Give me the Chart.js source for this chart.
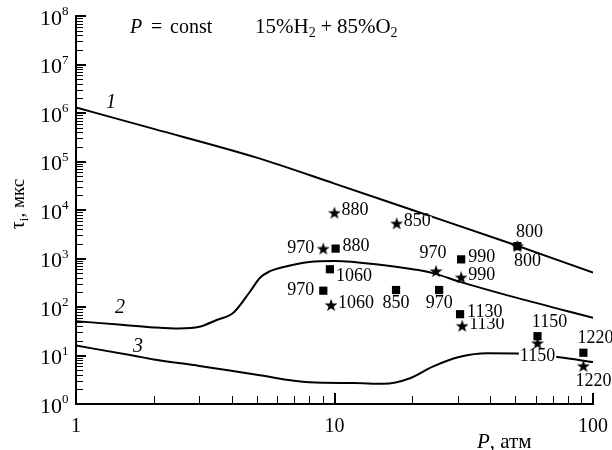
<!DOCTYPE html>
<html>
<head>
<meta charset="utf-8">
<script src="https://cdn.jsdelivr.net/npm/chart.js@4.4.0/dist/chart.umd.min.js"></script>
<style>
  html, body { margin: 0; padding: 0; background: #fff; }
  #wrap { position: relative; width: 612px; height: 450px; }
  #wrap canvas { position: absolute; left: 0; top: 0; }
</style>
</head>
<body>
<div id="wrap">
  <canvas id="chart" width="612" height="450"></canvas>
  <canvas id="axes" width="612" height="450"></canvas>
</div>
<script>
// computed curves 1-3: pressure P (atm) -> induction time tau_i (mks)
const curve1P   = [1, 2, 5, 10, 20, 50, 100];
const curve1Tau = [1.3e6, 4.7e5, 1.2e5, 3.5e4, 1.0e4, 1.9e3, 510];

const curve2P   = [1, 1.5, 2, 2.5, 3, 3.5, 4.05, 4.7, 5.15, 5.6, 6.3, 8, 10, 15, 24, 30.6, 50.8, 100];
const curve2Tau = [51, 43, 38, 36, 39, 54, 75, 204, 400, 540, 660, 850, 890, 740, 500, 330, 154, 60];

const curve3P   = [1, 1.66, 2, 3, 5, 8, 12, 15.5, 19.6, 24, 30.6, 39, 50.8, 74, 100];
const curve3Tau = [16, 10, 8.3, 6.1, 4.0, 2.8, 2.7, 2.6, 3.4, 5.9, 9.4, 11.1, 11, 9.2, 7.3];

// experiments: squares and stars, labelled with temperature (K)
const squareP   = [10.1, 9.6, 9.05, 17.3, 25.4, 30.9, 30.6, 51, 61, 91.8];
const squareTau = [1600, 600, 217, 224, 224, 960, 71, 1800, 25, 11.4];
const squareLbl = ['880', '1060', '970', '850', '970', '990', '1130', '800', '1150', '1220'];

const starP   = [10.0, 17.4, 9.05, 24.7, 9.7, 30.9, 51, 31.2, 61, 91.8];
const starTau = [8800, 5300, 1600, 550, 110, 410, 1800, 41, 18, 6.1];
const starLbl = ['880', '850', '970', '970', '1060', '990', '800', '1130', '1150', '1220'];

// ticks
const xTicks = [1, 10, 100];
const xTickLabels = ['1', '10', '100'];
const yTickExps = [0, 1, 2, 3, 4, 5, 6, 7, 8];

// where each label sits relative to its marker
const squareSide = ['r', 'rb', 'l', 'b', 'b', 'r', 'r', 'ar', 'ar', 'ar'];
const starSide   = ['r', 'r', 'l', 'a', 'r', 'r', 'br', 'r', 'b', 'br'];

const SERIF = '"Liberation Serif", "Times New Roman", serif';

const pts = (xs, ys) => xs.map((v, i) => ({ x: v, y: ys[i] }));

// filled five-point star as a point style
const starImg = document.createElement('canvas');
starImg.width = 14; starImg.height = 14;
(() => {
  const c = starImg.getContext('2d');
  c.fillStyle = '#000';
  c.beginPath();
  for (let i = 0; i < 10; i++) {
    const r = i % 2 === 0 ? 6.8 : 2.7;
    const ang = -Math.PI / 2 + i * Math.PI / 5;
    const px = 7 + r * Math.cos(ang), py = 7.6 + r * Math.sin(ang);
    if (i === 0) c.moveTo(px, py); else c.lineTo(px, py);
  }
  c.closePath();
  c.fill();
})();

// draw runs of text pieces left to right: [text, font, dy]
function runWidth(ctx, runs) {
  let w = 0;
  runs.forEach(([t, f]) => { ctx.font = f; w += ctx.measureText(t).width; });
  return w;
}
function drawRuns(ctx, x0, y0, runs) {
  runs.forEach(([t, f, dy]) => {
    ctx.font = f;
    ctx.fillText(t, x0, y0 + (dy || 0));
    x0 += ctx.measureText(t).width;
  });
}

// inward ticks and the two axis lines, placed with the chart's scales
function drawAxes(ctx, chart) {
  const a = chart.chartArea;
  const sx = chart.scales.x, sy = chart.scales.y;
  ctx.save();
  ctx.fillStyle = '#000';
  for (let d = 1; d < 100; d *= 10) {
    for (let k = 2; k <= 9; k++) {
      const px = Math.round(sx.getPixelForValue(k * d));
      ctx.fillRect(px, a.bottom - 8, 1, 8);
    }
  }
  for (const v of [10, 100]) {
    const px = Math.round(sx.getPixelForValue(v));
    ctx.fillRect(px - 1, a.bottom - 11, 2, 11);
  }
  for (let e = 0; e < 8; e++) {
    for (let k = 2; k <= 9; k++) {
      const py = Math.round(sy.getPixelForValue(k * Math.pow(10, e)));
      ctx.fillRect(a.left, py, 7, 1);
    }
  }
  for (let e = 1; e <= 8; e++) {
    const py = Math.round(sy.getPixelForValue(Math.pow(10, e)));
    ctx.fillRect(a.left, py - 1, 10, 2);
  }
  ctx.fillRect(a.left - 1, a.top - 1, 2, a.bottom - a.top + 2);
  ctx.fillRect(a.left - 1, a.bottom - 1, a.right - a.left + 2, 2);
  ctx.restore();
}

const textPlugin = {
  id: 'texts',
  afterDraw(chart) {
    const { ctx, scales: { x, y } } = chart;
    drawAxes(ctx, chart);
    ctx.save();
    ctx.fillStyle = '#000';

    // x tick labels
    ctx.font = '20px ' + SERIF;
    ctx.textAlign = 'center';
    ctx.textBaseline = 'middle';
    xTicks.forEach((v, i) => ctx.fillText(xTickLabels[i], x.getPixelForValue(v), 427));

    // y tick labels 10^n
    yTickExps.forEach(e => {
      const py = y.getPixelForValue(Math.pow(10, e));
      ctx.textAlign = 'right';
      ctx.font = '22px ' + SERIF;
      ctx.fillText('10', 62, py + 3);
      ctx.textAlign = 'left';
      ctx.font = '13px ' + SERIF;
      ctx.fillText(String(e), 62, py - 4);
    });

    // axis titles
    ctx.textAlign = 'left';
    ctx.textBaseline = 'alphabetic';
    drawRuns(ctx, 477, 448, [['P', 'italic 21px ' + SERIF], [', атм', '21px ' + SERIF]]);

    ctx.save();
    ctx.translate(24, 204);
    ctx.rotate(-Math.PI / 2);
    const yRuns = [['τ', '20px ' + SERIF], ['i', '13px ' + SERIF, 4], [', мкс', '19px ' + SERIF]];
    drawRuns(ctx, -runWidth(ctx, yRuns) / 2, 0, yRuns);
    ctx.restore();

    // header
    drawRuns(ctx, 130, 33, [['P', 'italic 20px ' + SERIF]]);
    drawRuns(ctx, 151, 33, [['=', '20px ' + SERIF]]);
    drawRuns(ctx, 170, 33, [['const', '20px ' + SERIF]]);
    drawRuns(ctx, 255, 33, [
      ['15%H', '21px ' + SERIF], ['2', '14px ' + SERIF, 4], [' + ', '20px ' + SERIF],
      ['85%O', '21px ' + SERIF], ['2', '14px ' + SERIF, 4]
    ]);

    // curve numbers
    ctx.font = 'italic 20px ' + SERIF;
    ctx.textAlign = 'center';
    ctx.textBaseline = 'middle';
    ctx.fillText('1', 111, 103);
    ctx.fillText('2', 120, 308);
    ctx.fillText('3', 138, 347);
    ctx.restore();
  }
};

const labelPlugin = {
  id: 'pointLabels',
  afterDatasetsDraw(chart) {
    const ctx = chart.ctx;
    const sides = {
      r:  { dx: 7,  dy: -2,  align: 'left' },
      l:  { dx: -9, dy: 0,   align: 'right' },
      a:  { dx: -3, dy: -18, align: 'center' },
      b:  { dx: 0,  dy: 13,  align: 'center' },
      rb: { dx: 6,  dy: 7,   align: 'left' },
      ar: { dx: 12, dy: -14, align: 'center' },
      br: { dx: 10, dy: 15,  align: 'center' }
    };
    ctx.save();
    ctx.font = '18px ' + SERIF;
    ctx.textBaseline = 'middle';
    [[0, starLbl, starSide], [1, squareLbl, squareSide]].forEach(([di, lbls, sd]) => {
      chart.getDatasetMeta(di).data.forEach((pt, i) => {
        const s = sides[sd[i]];
        const tx = pt.x + s.dx, ty = pt.y + s.dy;
        const w = ctx.measureText(lbls[i]).width;
        const left = s.align === 'left' ? tx : s.align === 'right' ? tx - w : tx - w / 2;
        ctx.fillStyle = '#fff';
        ctx.fillRect(left - 1, ty - 5, w + 2, 11);
        ctx.fillStyle = '#000';
        ctx.textAlign = s.align;
        ctx.fillText(lbls[i], tx, ty);
      });
    });
    ctx.restore();
  }
};

const curve = (data) => ({
  type: 'line',
  data,
  borderColor: '#000',
  borderWidth: 2,
  pointRadius: 0,
  fill: false,
  cubicInterpolationMode: 'monotone'
});

const chart = new Chart(document.getElementById('chart'), {
  type: 'scatter',
  data: {
    datasets: [
      {
        data: pts(starP, starTau),
        pointStyle: starImg,
        pointRadius: 7,
        backgroundColor: '#000',
        borderColor: '#000'
      },
      {
        data: pts(squareP, squareTau),
        pointStyle: 'rect',
        pointRadius: 5.8,
        backgroundColor: '#000',
        borderColor: '#000',
        borderWidth: 0
      },
      curve(pts(curve1P, curve1Tau)),
      curve(pts(curve2P, curve2Tau)),
      curve(pts(curve3P, curve3Tau))
    ]
  },
  options: {
    responsive: false,
    animation: false,
    events: [],
    layout: { padding: { left: 76, right: 19, top: 16, bottom: 46 } },
    plugins: { legend: { display: false }, tooltip: { enabled: false } },
    scales: {
      x: { type: 'logarithmic', min: 1, max: 100, display: false },
      y: { type: 'logarithmic', min: 1, max: 1e8, display: false }
    }
  },
  plugins: [labelPlugin, textPlugin]
});

// ticks again on a transparent overlay canvas
drawAxes(document.getElementById('axes').getContext('2d'), chart);
</script>
</body>
</html>
